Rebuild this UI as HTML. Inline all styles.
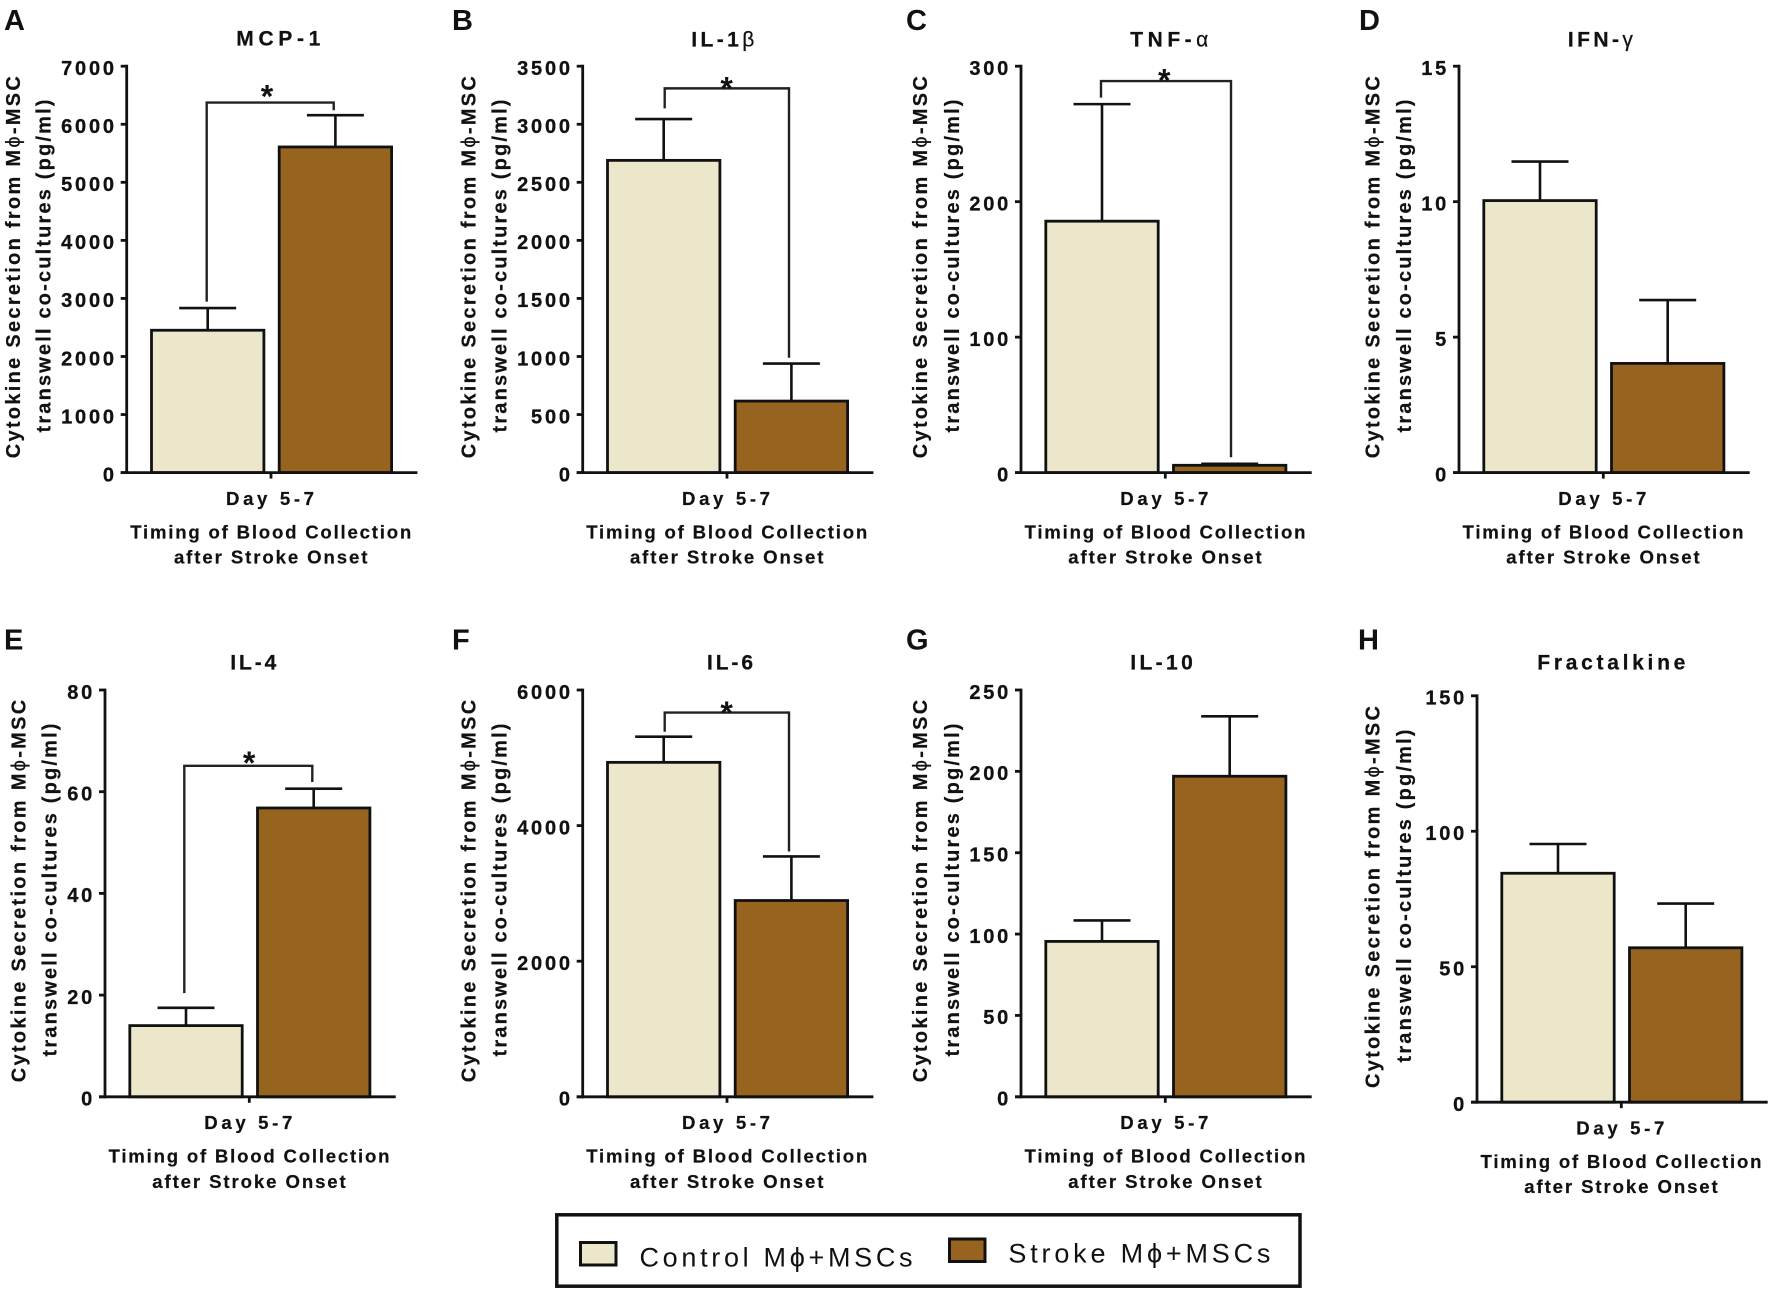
<!DOCTYPE html>
<html lang="en">
<head>
<meta charset="utf-8">
<title>Cytokine secretion from macrophage-MSC transwell co-cultures</title>
<style>
  html, body { margin: 0; padding: 0; background: #fff; }
  svg { display: block; filter: blur(0.35px); }
  text { font-family: "Liberation Sans", "DejaVu Sans", sans-serif; fill: #111; }
  .panel-letter { font-size: 29px; font-weight: 700; }
  .title { font-size: 21px; font-weight: 700; text-anchor: middle; stroke: #111; stroke-width: 0.25px; }
  .ylab { font-size: 20px; font-weight: 700; text-anchor: middle; stroke: #111; stroke-width: 0.2px; }
  .xlab { font-size: 18.6px; font-weight: 700; text-anchor: middle; stroke: #111; stroke-width: 0.2px; }
  .tick-label { font-size: 20px; font-weight: 700; text-anchor: end; letter-spacing: 2.8px; stroke: #111; stroke-width: 0.3px; }
  .star { font-size: 32px; font-weight: 700; text-anchor: middle; }
  .greek { font-weight: 400; }
  .legend-text { font-size: 27px; font-weight: 400; }
</style>
</head>
<body>
<svg id="figure" xmlns="http://www.w3.org/2000/svg" width="1772" height="1292" viewBox="0 0 1772 1292">
  <rect x="0" y="0" width="1772" height="1292" fill="#ffffff"/>

  <g id="panel-a">
    <text class="panel-letter" x="4" y="30">A</text>
    <text class="title" x="278.3" y="45.5" textLength="84">MCP-1</text>
    <text class="ylab" transform="translate(20,267.2) rotate(-90)" textLength="382">Cytokine Secretion from M<tspan class="greek">ϕ</tspan>-MSC</text>
    <text class="ylab" transform="translate(50.5,266) rotate(-90)" textLength="333">transwell co-cultures (pg/ml)</text>
    <text class="xlab" x="270" y="505.2" textLength="88">Day 5-7</text>
    <text class="xlab" x="270.7" y="538.6" textLength="281">Timing of Blood Collection</text>
    <text class="xlab" x="270.7" y="563.6" textLength="193.5">after Stroke Onset</text>
  </g>

  <g id="panel-b">
    <text class="panel-letter" x="452" y="30">B</text>
    <text class="title" x="722.8" y="46.5" textLength="63">IL-1<tspan class="greek">β</tspan></text>
    <text class="ylab" transform="translate(475.5,267.2) rotate(-90)" textLength="382">Cytokine Secretion from M<tspan class="greek">ϕ</tspan>-MSC</text>
    <text class="ylab" transform="translate(506.5,266) rotate(-90)" textLength="333">transwell co-cultures (pg/ml)</text>
    <text class="xlab" x="726" y="505.2" textLength="88">Day 5-7</text>
    <text class="xlab" x="726.7" y="538.6" textLength="281">Timing of Blood Collection</text>
    <text class="xlab" x="726.7" y="563.6" textLength="193.5">after Stroke Onset</text>
  </g>

  <g id="panel-c">
    <text class="panel-letter" x="906" y="30">C</text>
    <text class="title" x="1169.3" y="46.5" textLength="78">TNF-<tspan class="greek">α</tspan></text>
    <text class="ylab" transform="translate(927,267.2) rotate(-90)" textLength="382">Cytokine Secretion from M<tspan class="greek">ϕ</tspan>-MSC</text>
    <text class="ylab" transform="translate(958.8,266) rotate(-90)" textLength="333">transwell co-cultures (pg/ml)</text>
    <text class="xlab" x="1164.3" y="505.2" textLength="88">Day 5-7</text>
    <text class="xlab" x="1165" y="538.6" textLength="281">Timing of Blood Collection</text>
    <text class="xlab" x="1165" y="563.6" textLength="193.5">after Stroke Onset</text>
  </g>

  <g id="panel-d">
    <text class="panel-letter" x="1359" y="30">D</text>
    <text class="title" x="1600.4" y="46.5" textLength="65">IFN-<tspan class="greek">γ</tspan></text>
    <text class="ylab" transform="translate(1379.5,267.2) rotate(-90)" textLength="382">Cytokine Secretion from M<tspan class="greek">ϕ</tspan>-MSC</text>
    <text class="ylab" transform="translate(1411.2,266) rotate(-90)" textLength="333">transwell co-cultures (pg/ml)</text>
    <text class="xlab" x="1602.3" y="505.2" textLength="88">Day 5-7</text>
    <text class="xlab" x="1603" y="538.6" textLength="281">Timing of Blood Collection</text>
    <text class="xlab" x="1603" y="563.6" textLength="193.5">after Stroke Onset</text>
  </g>

  <g id="panel-e">
    <text class="panel-letter" x="4" y="649.5">E</text>
    <text class="title" x="253.3" y="669.5" textLength="46">IL-4</text>
    <text class="ylab" transform="translate(25.5,891) rotate(-90)" textLength="382.5">Cytokine Secretion from M<tspan class="greek">ϕ</tspan>-MSC</text>
    <text class="ylab" transform="translate(56.5,890) rotate(-90)" textLength="333">transwell co-cultures (pg/ml)</text>
    <text class="xlab" x="248.3" y="1129.2" textLength="88">Day 5-7</text>
    <text class="xlab" x="249" y="1162.6" textLength="281">Timing of Blood Collection</text>
    <text class="xlab" x="249" y="1187.8" textLength="193.5">after Stroke Onset</text>
  </g>

  <g id="panel-f">
    <text class="panel-letter" x="452" y="649.5">F</text>
    <text class="title" x="730" y="669.5" textLength="46">IL-6</text>
    <text class="ylab" transform="translate(475.5,891) rotate(-90)" textLength="382.5">Cytokine Secretion from M<tspan class="greek">ϕ</tspan>-MSC</text>
    <text class="ylab" transform="translate(506.5,890) rotate(-90)" textLength="333">transwell co-cultures (pg/ml)</text>
    <text class="xlab" x="726" y="1129.2" textLength="88">Day 5-7</text>
    <text class="xlab" x="726.7" y="1162.6" textLength="281">Timing of Blood Collection</text>
    <text class="xlab" x="726.7" y="1187.8" textLength="193.5">after Stroke Onset</text>
  </g>

  <g id="panel-g">
    <text class="panel-letter" x="906" y="649.5">G</text>
    <text class="title" x="1161.5" y="669.5" textLength="62.5">IL-10</text>
    <text class="ylab" transform="translate(927,891) rotate(-90)" textLength="382.5">Cytokine Secretion from M<tspan class="greek">ϕ</tspan>-MSC</text>
    <text class="ylab" transform="translate(958.8,890) rotate(-90)" textLength="333">transwell co-cultures (pg/ml)</text>
    <text class="xlab" x="1164.3" y="1129.2" textLength="88">Day 5-7</text>
    <text class="xlab" x="1165" y="1162.6" textLength="281">Timing of Blood Collection</text>
    <text class="xlab" x="1165" y="1187.8" textLength="193.5">after Stroke Onset</text>
  </g>

  <g id="panel-h">
    <text class="panel-letter" x="1358" y="649.5">H</text>
    <text class="title" x="1611.3" y="669.5" textLength="148">Fractalkine</text>
    <text class="ylab" transform="translate(1379.5,897) rotate(-90)" textLength="382">Cytokine Secretion from M<tspan class="greek">ϕ</tspan>-MSC</text>
    <text class="ylab" transform="translate(1411.2,896) rotate(-90)" textLength="333">transwell co-cultures (pg/ml)</text>
    <text class="xlab" x="1620.3" y="1134.6" textLength="88">Day 5-7</text>
    <text class="xlab" x="1621" y="1168" textLength="281">Timing of Blood Collection</text>
    <text class="xlab" x="1621" y="1193.2" textLength="193.5">after Stroke Onset</text>
  </g>

  <g id="legend">
    <rect x="556.8" y="1214.8" width="743.2" height="71.4" fill="#ffffff" stroke="#111111" stroke-width="3.5"/>
    <g>
      <rect x="580.5" y="1242.5" width="35.5" height="22.5" fill="#ece7cb" stroke="#111111" stroke-width="3"/>
      <text class="legend-text" x="639.5" y="1266.5" textLength="273">Control M<tspan>ϕ</tspan>+MSCs</text>
    </g>
    <g>
      <rect x="949.5" y="1239" width="35.5" height="22.5" fill="#96641f" stroke="#111111" stroke-width="3"/>
      <text class="legend-text" x="1008.4" y="1262.5" textLength="262">Stroke M<tspan>ϕ</tspan>+MSCs</text>
    </g>
  </g>
</svg>

<script>
// ---- Data (pg/ml), one entry per panel A..H ----
const panelKeys = ["mcp-1", "il-1-beta", "tnf-alpha", "ifn-gamma", "il-4", "il-6", "il-10", "fractalkine"];
const categories = ["control", "stroke"];
const controlMeans = [2452, 2689, 185.6, 10.04, 14, 4933, 95.5, 84.5];
const strokeMeans = [5609, 616, 5.4, 4.03, 56.8, 2895, 197, 57];
const controlErrorTops = [2834, 3045, 272, 11.48, 17.5, 5311, 108.4, 95.3];
const strokeErrorTops = [6156, 939, 6.5, 6.37, 60.6, 3545, 233.8, 73.3];
const tickLabelsA = ["0", "1000", "2000", "3000", "4000", "5000", "6000", "7000"];
const tickLabelsB = ["0", "500", "1000", "1500", "2000", "2500", "3000", "3500"];
const tickLabelsC = ["0", "100", "200", "300"];
const tickLabelsD = ["0", "5", "10", "15"];
const tickLabelsE = ["0", "20", "40", "60", "80"];
const tickLabelsF = ["0", "2000", "4000", "6000"];
const tickLabelsG = ["0", "50", "100", "150", "200", "250"];
const tickLabelsH = ["0", "50", "100", "150"];
const tickLabels = [tickLabelsA, tickLabelsB, tickLabelsC, tickLabelsD, tickLabelsE, tickLabelsF, tickLabelsG, tickLabelsH];
// Significance brackets, in axis units (null = no bracket in that panel)
const bracketTops = [6374, 3309, 289, null, 65.1, 5667, null, null];
const bracketLeftEnds = [2946, 3137, 276.8, null, 20.4, 5385, null, null];
const bracketRightEnds = [6242, 989, 11.3, null, 61.9, 3618, null, null];

// ---- Panel frame geometry ----
const frameLefts = [126.7, 582.7, 1021, 1459, 105, 582.7, 1021, 1477];
const frameTops = [66.2, 66.2, 66.2, 66.2, 690, 690, 690, 695.8];
const frameBottoms = [472.6, 472.6, 472.6, 472.6, 1096.8, 1096.8, 1096.8, 1102.2];
const frameIds = ["panel-a", "panel-b", "panel-c", "panel-d", "panel-e", "panel-f", "panel-g", "panel-h"];
const bracketNudgeLeft = [-1, 1, -1, 0, -1.7, 1, 0, 0];
const bracketNudgeRight = [-1.7, -2.4, 1.3, 0, -1.4, -2.4, 0, 0];
const starNudgeX = [-3.2, -0.2, -1.8, 0, 0.8, -0.2, 0, 0];
const starLift = [12, 6, 6.5, 0, 9, 5.6, 0, 0];

const NS = "http://www.w3.org/2000/svg";
const INK = "#111111";
const FILLS = ["#ece7cb", "#96641f"];
const BAR_OFFSET = 23.4, BAR_STEP = 127.7, BAR_WIDTH = 115.2, BAR_EDGE = 2.8;
const CAP_HALF = 28.5, TICK_LEN = 6, AXIS_LEN = 290.7, X_TICK = 144.3;

function shape(parent, tag, attrs) {
  const node = document.createElementNS(NS, tag);
  for (const k in attrs) node.setAttribute(k, attrs[k]);
  parent.appendChild(node);
  return node;
}
function segment(parent, x1, y1, x2, y2, width, color) {
  return shape(parent, "line", { x1: x1, y1: y1, x2: x2, y2: y2, stroke: color || INK, "stroke-width": width });
}
function makeYScale(p) {
  const labels = tickLabels[p];
  const max = Number(labels[labels.length - 1]);
  return function (v) { return frameBottoms[p] - (v / max) * (frameBottoms[p] - frameTops[p]); };
}
function barLeft(p, i) { return frameLefts[p] + BAR_OFFSET + i * BAR_STEP; }
function barCenter(p, i) { return barLeft(p, i) + BAR_WIDTH / 2; }

panelKeys.forEach(function (key, p) {
  const host = document.getElementById(frameIds[p]);
  const y = makeYScale(p);
  const means = [controlMeans[p], strokeMeans[p]];
  const errTops = [controlErrorTops[p], strokeErrorTops[p]];

  categories.forEach(function (cat, i) {
    const cx = barCenter(p, i);
    const err = shape(host, "g", {});
    
    
    segment(err, cx, y(means[i]), cx, y(errTops[i]), 2.6);
    segment(err, cx - CAP_HALF, y(errTops[i]), cx + CAP_HALF, y(errTops[i]), 2.6);

    const bar = shape(host, "rect", {
      x: barLeft(p, i) + BAR_EDGE / 2,
      y: y(means[i]),
      width: BAR_WIDTH - BAR_EDGE,
      height: Math.max(0, frameBottoms[p] - y(means[i])),
      fill: FILLS[i],
      stroke: INK,
      "stroke-width": BAR_EDGE
    });
    
    
  });

  const yAxis = shape(host, "g", {});
  
  
  segment(yAxis, frameLefts[p], frameTops[p] - 1.4, frameLefts[p], frameBottoms[p] + 1.4, 2.8);
  tickLabels[p].forEach(function (label) {
    const ty = y(Number(label));
    const mark = segment(yAxis, frameLefts[p] - TICK_LEN, ty, frameLefts[p], ty, 2.8);
    
    
    const txt = shape(yAxis, "text", { class: "tick-label", x: frameLefts[p] - 9.9, y: ty + 8.8 });
    txt.textContent = label;
    
    
  });

  const xAxis = shape(host, "g", {});
  
  
  segment(xAxis, frameLefts[p] - TICK_LEN, frameBottoms[p], frameLefts[p] + AXIS_LEN, frameBottoms[p], 2.8);
  segment(xAxis, frameLefts[p] + X_TICK, frameBottoms[p], frameLefts[p] + X_TICK, frameBottoms[p] + 6, 2.8);

  if (bracketTops[p] !== null) {
    const lx = barCenter(p, 0) + bracketNudgeLeft[p];
    const rx = barCenter(p, 1) + bracketNudgeRight[p];
    const by = y(bracketTops[p]);
    const bracket = shape(host, "path", {
      d: "M" + lx + " " + y(bracketLeftEnds[p]) + "V" + by + "H" + rx + "V" + y(bracketRightEnds[p]),
      fill: "none",
      stroke: "#222222",
      "stroke-width": 2.4
    });
    
    
    const star = shape(host, "text", {
      class: "star",
      x: (lx + rx) / 2 + starNudgeX[p],
      y: by - starLift[p] + 17
    });
    star.textContent = "*";
    
    
  }
});
</script>
</body>
</html>
